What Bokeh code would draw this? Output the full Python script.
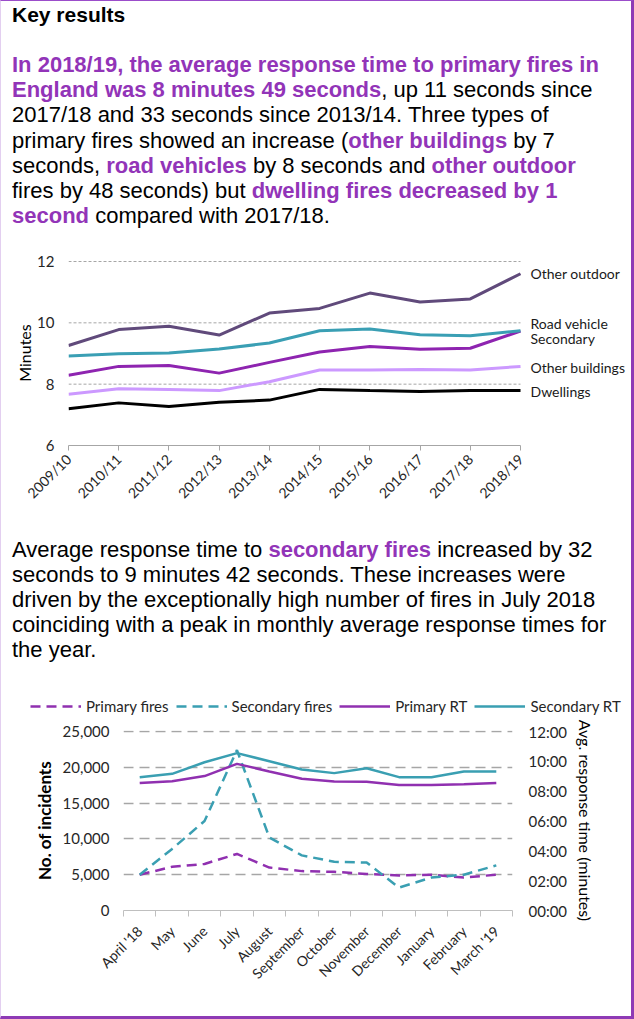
import math
from bokeh.plotting import figure
from bokeh.models import (Range1d, FixedTicker, LinearAxis, Div, Legend, LegendItem,
                          LabelSet, ColumnDataSource, NumeralTickFormatter)
from bokeh.core.properties import value
from bokeh.layouts import column
from bokeh.embed import file_html
from bokeh.resources import INLINE

# ---------------- data: chart 1 (annual average response times, minutes)
years = ["2009/10", "2010/11", "2011/12", "2012/13", "2013/14",
         "2014/15", "2015/16", "2016/17", "2017/18", "2018/19"]
other_outdoor = [9.26, 9.78, 9.89, 9.60, 10.32, 10.47, 10.97, 10.68, 10.78, 11.60]
road_vehicle = [8.92, 8.99, 9.02, 9.15, 9.34, 9.74, 9.80, 9.61, 9.58, 9.74]
secondary = [8.29, 8.58, 8.61, 8.36, 8.71, 9.05, 9.23, 9.14, 9.17, 9.73]
other_buildings = [7.67, 7.85, 7.83, 7.79, 8.08, 8.46, 8.46, 8.48, 8.46, 8.58]
dwellings = [7.20, 7.39, 7.27, 7.41, 7.48, 7.83, 7.79, 7.76, 7.79, 7.79]
series_names = ["Other outdoor", "Road vehicle", "Secondary", "Other buildings", "Dwellings"]
minute_ticks = [6, 8, 10, 12]

# ---------------- data: chart 2 (monthly, 2018/19)
months = ["April '18", "May", "June", "July", "August", "September", "October",
          "November", "December", "January", "February", "March '19"]
primary_fires = [5000, 6100, 6500, 7900, 6000, 5500, 5400, 5100, 4900, 5000, 4600, 5000]
secondary_fires = [5000, 8600, 12500, 22400, 10200, 7700, 6800, 6700, 3200, 4600, 5000, 6300]
primary_rt = [8.54, 8.67, 9.01, 9.83, 9.32, 8.83, 8.65, 8.63, 8.42, 8.42, 8.47, 8.54]
secondary_rt = [8.94, 9.16, 9.94, 10.55, 10.01, 9.45, 9.21, 9.54, 8.94, 8.94, 9.32, 9.32]
incident_ticks = [0, 5000, 10000, 15000, 20000, 25000]
rt_ticks = [0, 2, 4, 6, 8, 10, 12]
rt_tick_labels = ["00:00", "02:00", "04:00", "06:00", "08:00", "10:00", "12:00"]

# ---------------- styles
FONT = "Lato"
PURPLE_TXT = "#9234b8"
C_OUTDOOR = "#604a7b"
C_ROAD = "#3a9fb4"
C_SEC = "#8e24b0"
C_BUILD = "#cc99ff"
C_DWELL = "#000000"
C2_PURPLE = "#9030b0"
C2_TEAL = "#3a9fb2"
INNER_W = 630
DASH = "10 6"

TXT = "font-family:'Liberation Sans',Arial,sans-serif;color:#000;white-space:nowrap;"
b = lambda s: f"<b style='color:{PURPLE_TXT}'>{s}</b>"

html1 = (
    f"<div style=\"{TXT}\">"
    "<div style='font-weight:bold;font-size:21px;line-height:28px;padding-left:11px'>Key results</div>"
    "<div style='font-size:22px;line-height:25.2px;margin-top:23px;padding-left:11px'>"
    + b("In 2018/19, the average response time to primary fires in<br>England was 8 minutes 49 seconds")
    + ", up 11 seconds since<br>2017/18 and 33 seconds since 2013/14. Three types of<br>"
    + "primary fires showed an increase (" + b("other buildings") + " by 7<br>"
    + "seconds, " + b("road vehicles") + " by 8 seconds and " + b("other outdoor") + "<br>"
    + "fires by 48 seconds) but " + b("dwelling fires decreased by 1<br>second")
    + " compared with 2017/18.</div></div>"
)
html2 = (
    f"<div style=\"{TXT}font-size:22px;line-height:25px;padding-top:17px;padding-left:11px\">"
    + "Average response time to " + b("secondary fires") + " increased by 32<br>"
    + "seconds to 9 minutes 42 seconds. These increases were<br>"
    + "driven by the exceptionally high number of fires in July 2018<br>"
    + "coinciding with a peak in monthly average response times for<br>"
    + "the year.</div>"
)
div1 = Div(text=html1, width=INNER_W, height=229, margin=0)
div2 = Div(text=html2, width=INNER_W, height=148, margin=0)


def no_align(p):
    if "frame_align" in p.properties():
        p.frame_align = False


# ---------------- chart 1
x1 = list(range(len(years)))
x1_end = 11.15                                  # room on the right for the series labels
y1_top = minute_ticks[-1] + 6 * (1.0 / 184)     # ~1px headroom above the top grid line
p1 = figure(width=INNER_W, height=290, min_border_left=67, min_border_right=3,
            min_border_top=30, min_border_bottom=75,
            x_range=Range1d(x1[0], x1_end), y_range=Range1d(minute_ticks[0], y1_top),
            output_backend="svg", toolbar_location=None)
no_align(p1)
p1.outline_line_color = None
p1.xgrid.visible = False
p1.ygrid.visible = False

gl = minute_ticks[1:]
p1.segment(x0=[x1[0]] * len(gl), x1=[x1[-1]] * len(gl), y0=gl, y1=gl,
           line_color="#a6a6a6", line_dash="3 2", line_width=1)

for ys, col in [(dwellings, C_DWELL), (other_buildings, C_BUILD), (secondary, C_SEC),
                (road_vehicle, C_ROAD), (other_outdoor, C_OUTDOOR)]:
    p1.line(x=x1, y=ys, line_color=col, line_width=3)

p1.xaxis.ticker = FixedTicker(ticks=x1)
p1.xaxis.bounds = (x1[0], x1[-1])
p1.xaxis.major_label_overrides = {i: y for i, y in zip(x1, years)}
p1.xaxis.major_label_orientation = math.pi / 4
p1.xaxis.axis_line_color = "#a6a6a6"
p1.xaxis.major_tick_line_color = "#a6a6a6"
p1.xaxis.major_tick_out = 5
p1.xaxis.major_tick_in = 0
p1.xaxis.minor_tick_line_color = None
p1.xaxis.major_label_text_font = FONT
p1.xaxis.major_label_text_font_size = "14px"
p1.xaxis.major_label_text_color = "#262626"
p1.xaxis.major_label_standoff = 6

p1.yaxis.ticker = FixedTicker(ticks=minute_ticks)
p1.yaxis.axis_line_color = None
p1.yaxis.major_tick_line_color = None
p1.yaxis.major_tick_out = 0
p1.yaxis.minor_tick_line_color = None
p1.yaxis.minor_tick_out = 0
p1.yaxis.major_label_text_font = FONT
p1.yaxis.major_label_text_font_size = "15px"
p1.yaxis.major_label_text_color = "#262626"
p1.yaxis.major_label_standoff = 14
p1.yaxis.axis_label = "Minutes"
p1.yaxis.axis_label_text_font = FONT
p1.yaxis.axis_label_text_font_style = "normal"
p1.yaxis.axis_label_text_font_size = "16px"
p1.yaxis.axis_label_text_color = "#000000"
p1.yaxis.axis_label_standoff = 0

last_vals = [s[-1] for s in (other_outdoor, road_vehicle, secondary, other_buildings, dwellings)]
label_dy = [0, 7, -7, -1, -1]
lab_src = ColumnDataSource(dict(x=[x1[-1]] * len(series_names), y=last_vals,
                                text=series_names, dy=label_dy))
p1.add_layout(LabelSet(x="x", y="y", text="text", source=lab_src, x_offset=10, y_offset="dy",
                       text_font=value(FONT), text_font_size=value("14px"), text_color="#1a1a1a",
                       text_baseline="middle", text_align="left"))

# ---------------- chart 2 legend strip (series drawn outside its frame, only the legend shows)
x2 = [i + 0.5 for i in range(len(months))]
leg_fig = figure(width=INNER_W, height=48, min_border=0, x_range=Range1d(0, 1), y_range=Range1d(0, 1),
                 output_backend="svg", toolbar_location=None)
no_align(leg_fig)
leg_fig.axis.visible = False
leg_fig.grid.visible = False
leg_fig.outline_line_color = None
series2 = [("Primary fires", primary_fires, C2_PURPLE, DASH),
           ("Secondary fires", secondary_fires, C2_TEAL, DASH),
           ("Primary RT", primary_rt, C2_PURPLE, "solid"),
           ("Secondary RT", secondary_rt, C2_TEAL, "solid")]
items = []
for name, ys, col, dash in series2:
    r = leg_fig.line(x=x2, y=ys, line_color=col, line_width=2.5, line_dash=dash)
    items.append(LegendItem(label=name, renderers=[r]))
legend = Legend(items=items, orientation="horizontal", location=(29, 1),
                glyph_width=51, glyph_height=18, label_standoff=5, spacing=7,
                padding=0, margin=0, border_line_color=None, background_fill_alpha=0,
                label_text_font=FONT, label_text_font_size="15px", label_text_color="#262626")
leg_fig.add_layout(legend)

# ---------------- chart 2
head2 = 180.0 / 179.0                            # ~1px headroom above the top grid line
p2 = figure(width=INNER_W, height=300, min_border_left=122, min_border_right=119,
            min_border_top=14, min_border_bottom=106,
            x_range=Range1d(0, len(months)),
            y_range=Range1d(incident_ticks[0], incident_ticks[-1] * head2),
            output_backend="svg", toolbar_location=None)
no_align(p2)
p2.outline_line_color = None
p2.extra_y_ranges = {"rt": Range1d(rt_ticks[0], rt_ticks[-1] * head2)}

p2.xgrid.visible = False
p2.ygrid.ticker = FixedTicker(ticks=incident_ticks[1:])
p2.ygrid.grid_line_color = "#a6a6a6"
p2.ygrid.grid_line_dash = "10 6"
p2.ygrid.grid_line_width = 1.5

p2.line(x=x2, y=primary_fires, line_color=C2_PURPLE, line_width=2.5, line_dash=DASH)
p2.line(x=x2, y=secondary_fires, line_color=C2_TEAL, line_width=2.5, line_dash=DASH)
p2.line(x=x2, y=primary_rt, line_color=C2_PURPLE, line_width=2.5, y_range_name="rt")
p2.line(x=x2, y=secondary_rt, line_color=C2_TEAL, line_width=2.5, y_range_name="rt")

p2.xaxis.ticker = FixedTicker(ticks=x2, minor_ticks=list(range(len(months) + 1)))
p2.xaxis.major_label_overrides = {x: m for x, m in zip(x2, months)}
p2.xaxis.major_label_orientation = math.pi / 4
p2.xaxis.axis_line_color = "#bfbfbf"
p2.xaxis.major_tick_line_color = None
p2.xaxis.major_tick_out = 0
p2.xaxis.minor_tick_line_color = "#bfbfbf"
p2.xaxis.minor_tick_out = 6
p2.xaxis.minor_tick_in = 0
p2.xaxis.major_label_text_font = FONT
p2.xaxis.major_label_text_font_size = "14px"
p2.xaxis.major_label_text_color = "#262626"
p2.xaxis.major_label_standoff = 12

p2.yaxis.ticker = FixedTicker(ticks=incident_ticks)
p2.yaxis.formatter = NumeralTickFormatter(format="0,0")
p2.yaxis.axis_line_color = None
p2.yaxis.major_tick_line_color = None
p2.yaxis.major_tick_out = 0
p2.yaxis.minor_tick_line_color = None
p2.yaxis.minor_tick_out = 0
p2.yaxis.major_label_text_font = FONT
p2.yaxis.major_label_text_font_size = "15px"
p2.yaxis.major_label_text_color = "#262626"
p2.yaxis.major_label_standoff = 14
p2.yaxis.axis_label = "No. of incidents"
p2.yaxis.axis_label_text_font = FONT
p2.yaxis.axis_label_text_font_style = "bold"
p2.yaxis.axis_label_text_font_size = "17px"
p2.yaxis.axis_label_text_color = "#000000"
p2.yaxis.axis_label_standoff = 5

rax = LinearAxis(y_range_name="rt", ticker=FixedTicker(ticks=rt_ticks),
                 major_label_overrides=dict(zip(rt_ticks, rt_tick_labels)),
                 axis_label="Avg. response time (minutes)")
rax.axis_line_color = None
rax.major_tick_line_color = None
rax.major_tick_out = 0
rax.minor_tick_line_color = None
rax.minor_tick_out = 0
rax.major_label_text_font = FONT
rax.major_label_text_font_size = "15px"
rax.major_label_text_color = "#262626"
rax.major_label_standoff = 16
rax.axis_label_text_font = FONT
rax.axis_label_text_font_style = "normal"
rax.axis_label_text_font_size = "16px"
rax.axis_label_text_color = "#000000"
rax.axis_label_standoff = 6
p2.add_layout(rax, "right")

for p in (p1, p2, leg_fig):
    p.background_fill_color = "white"
    p.border_fill_color = "white"

layout = column(div1, p1, div2, leg_fig, p2, spacing=0,
                styles={"border-top": "1px solid #9b4dca", "border-left": "1px solid #e3cff0",
                        "border-right": "3px solid #8e3ab5", "border-bottom": "3px solid #8e3ab5",
                        "background": "white"})

open("out.html", "w").write(file_html(layout, INLINE, title="Key results"))
